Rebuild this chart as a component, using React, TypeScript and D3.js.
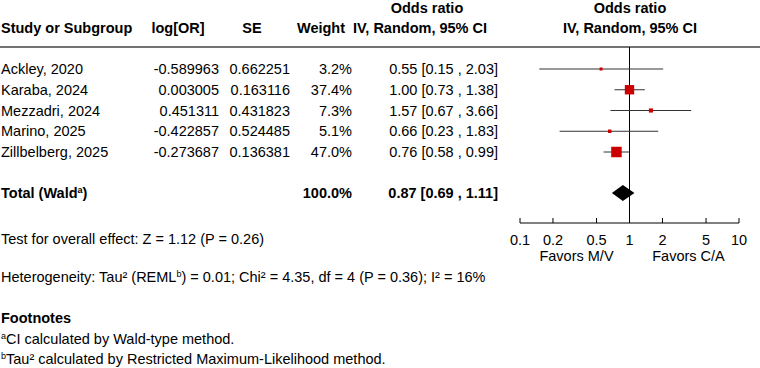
import React from 'react';
import * as d3 from 'd3';

const studies = ['Ackley, 2020', 'Karaba, 2024', 'Mezzadri, 2024', 'Marino, 2025', 'Zillbelberg, 2025'];
const logOR = [-0.589963, 0.003005, 0.451311, -0.422857, -0.273687];
const se = [0.662251, 0.163116, 0.431823, 0.524485, 0.136381];
const weights = [3.2, 37.4, 7.3, 5.1, 47.0];
const orEst = [0.55, 1.0, 1.57, 0.66, 0.76];
const ciLow = [0.15, 0.73, 0.67, 0.23, 0.58];
const ciHigh = [2.03, 1.38, 3.66, 1.83, 0.99];

const totalOR = 0.87;
const totalLow = 0.69;
const totalHigh = 1.11;
const totalWeight = 100.0;

const axisTicks = [0.1, 0.2, 0.5, 1, 2, 5, 10];

const W = 760;
const H = 368;
const font = '"Liberation Sans", Arial, Helvetica, sans-serif';
const fs = 14.5;

const ciText = (m: number, lo: number, hi: number) =>
  `${m.toFixed(2)} [${lo.toFixed(2)} , ${hi.toFixed(2)}]`;

const App: React.FC = () => {
  const x = d3.scaleLog().domain([0.1, 10]).range([520, 739]);
  const size = d3.scaleSqrt().domain([0, 47]).range([0, 10.5]);
  const rowY = d3.scalePoint<number>().domain(d3.range(studies.length)).range([69, 152]);

  const ruleY = 47;
  const totalY = 193;
  const axisY = 223;
  const base = 5; // shift from row centre to text baseline

  // diamond for pooled estimate
  const dh = 8;
  const diamond = d3.line()([
    [x(totalLow), totalY],
    [x(totalOR), totalY - dh],
    [x(totalHigh), totalY],
    [x(totalOR), totalY + dh],
  ]) + 'Z';

  return (
    <svg
      width={W}
      height={H}
      style={{ position: 'absolute', left: 0, top: 0, background: '#fff' }}
      fontFamily={font}
      fontSize={fs}
    >
      {/* headers */}
      <g fontWeight="bold" fill="#000">
        <text x={427} y={8 + base} textAnchor="middle">Odds ratio</text>
        <text x={630} y={8 + base} textAnchor="middle">Odds ratio</text>
        <text x={1} y={28 + base}>Study or Subgroup</text>
        <text x={178} y={28 + base} textAnchor="middle">log[OR]</text>
        <text x={252} y={28 + base} textAnchor="middle">SE</text>
        <text x={321} y={28 + base} textAnchor="middle">Weight</text>
        <text x={420} y={28 + base} textAnchor="middle">IV, Random, 95% CI</text>
        <text x={630} y={28 + base} textAnchor="middle">IV, Random, 95% CI</text>
      </g>
      <line x1={0} x2={W} y1={ruleY} y2={ruleY} stroke="#444" strokeWidth={1.5} />

      {/* no-effect line */}
      <line x1={x(1)} x2={x(1)} y1={ruleY} y2={axisY} stroke="#000" strokeWidth={1} />

      {/* study rows */}
      {studies.map((s, i) => {
        const cy = rowY(i) as number;
        const sz = Math.max(3, size(weights[i]));
        return (
          <g key={s}>
            <text x={1} y={cy + base}>{s}</text>
            <text x={219} y={cy + base} textAnchor="end">{logOR[i].toFixed(6)}</text>
            <text x={290} y={cy + base} textAnchor="end">{se[i].toFixed(6)}</text>
            <text x={352} y={cy + base} textAnchor="end">{weights[i].toFixed(1)}%</text>
            <text x={498} y={cy + base} textAnchor="end">{ciText(orEst[i], ciLow[i], ciHigh[i])}</text>
            <line x1={x(ciLow[i])} x2={x(ciHigh[i])} y1={cy} y2={cy} stroke="#333" strokeWidth={1} />
            <rect x={x(orEst[i]) - sz / 2} y={cy - sz / 2} width={sz} height={sz} fill="#cc0000" />
          </g>
        );
      })}

      {/* total row */}
      <g fontWeight="bold">
        <text x={1} y={totalY + base}>
          Total (Wald<tspan fontSize={9} dy={-5}>a</tspan>
          <tspan dy={5}>)</tspan>
        </text>
        <text x={352} y={totalY + base} textAnchor="end">{totalWeight.toFixed(1)}%</text>
        <text x={498} y={totalY + base} textAnchor="end">{ciText(totalOR, totalLow, totalHigh)}</text>
      </g>
      <path d={diamond} fill="#000" />

      {/* axis */}
      <line x1={x(0.1)} x2={x(10)} y1={axisY} y2={axisY} stroke="#000" strokeWidth={1} />
      {axisTicks.map((t) => (
        <g key={t}>
          <line x1={x(t)} x2={x(t)} y1={axisY - 5} y2={axisY} stroke="#000" strokeWidth={1} />
          <text x={x(t)} y={axisY + 22} textAnchor="middle">{String(t)}</text>
        </g>
      ))}
      <text x={x(1) - 53} y={axisY + 38} textAnchor="middle">Favors M/V</text>
      <text x={x(1) + 59} y={axisY + 38} textAnchor="middle">Favors C/A</text>

      {/* statistics */}
      <text x={1} y={239 + base}>Test for overall effect: Z = 1.12 (P = 0.26)</text>
      <text x={1} y={277 + base}>
        Heterogeneity: Tau² (REML<tspan fontSize={9} dy={-5}>b</tspan>
        <tspan dy={5}>) = 0.01; Chi² = 4.35, df = 4 (P = 0.36); I² = 16%</tspan>
      </text>

      {/* footnotes */}
      <text x={1} y={318 + base} fontWeight="bold">Footnotes</text>
      <text x={1} y={339 + base}>
        <tspan fontSize={9} dy={-5}>a</tspan>
        <tspan dy={5}>CI calculated by Wald-type method.</tspan>
      </text>
      <text x={1} y={359 + base}>
        <tspan fontSize={9} dy={-5}>b</tspan>
        <tspan dy={5}>Tau² calculated by Restricted Maximum-Likelihood method.</tspan>
      </text>
    </svg>
  );
};

export default App;
